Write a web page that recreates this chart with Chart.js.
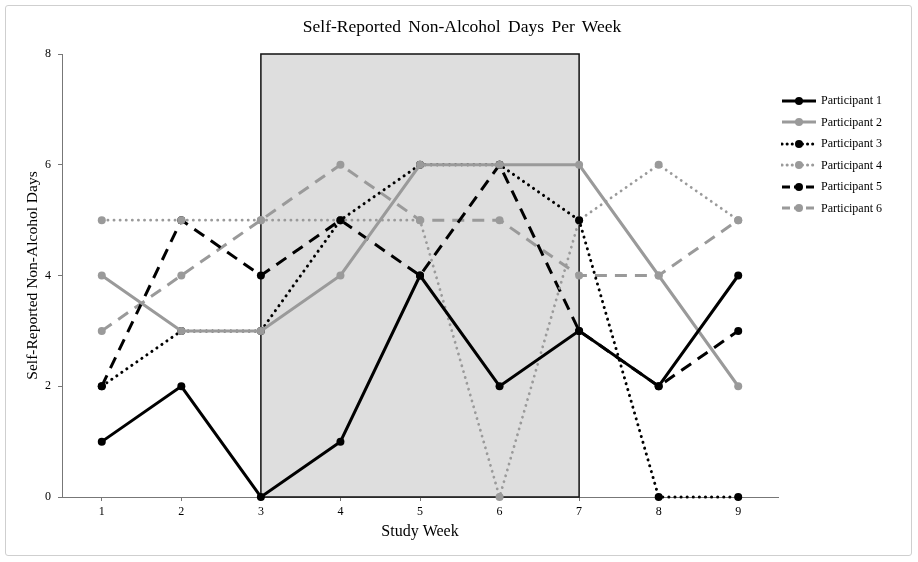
<!DOCTYPE html>
<html>
<head>
<meta charset="utf-8">
<script src="https://cdn.jsdelivr.net/npm/chart.js@4"></script>
<style>
  html, body { margin: 0; padding: 0; background: #fff; }
  #wrap { position: relative; width: 918px; height: 562px; }
  #frame { position: absolute; left: 5px; top: 5px; width: 905px; height: 549px; border: 1px solid #cfcfcf; border-radius: 3px; pointer-events: none; }
  #title { position: absolute; left: 0; width: 924px; top: 16px; text-align: center; font-family: "Liberation Serif", serif; font-size: 17.5px; color: #000; word-spacing: 3px; }
  #legend { position: absolute; left: 781px; top: 90px; font-family: "Liberation Serif", serif; font-size: 12px; color: #000; }
  .item { height: 21.5px; display: flex; align-items: center; }
  .item svg { margin-right: 4px; }
</style>
</head>
<body>
<div id="wrap">
  <canvas id="myChart" width="918" height="562"></canvas>
  <div id="frame"></div>
  <div id="title">Self-Reported Non-Alcohol Days Per Week</div>
  <div id="legend"></div>
</div>
<script>
let weeks = ['1', '2', '3', '4', '5', '6', '7', '8', '9'];
let names = ['Participant 1', 'Participant 2', 'Participant 3', 'Participant 4', 'Participant 5', 'Participant 6'];
let p1 = [1, 2, 0, 1, 4, 2, 3, 2, 4];
let p2 = [4, 3, 3, 4, 6, 6, 6, 4, 2];
let p3 = [2, 3, 3, 5, 6, 6, 5, 0, 0];
let p4 = [5, 5, 5, 5, 5, 0, 5, 6, 5];
let p5 = [2, 5, 4, 5, 4, 6, 3, 2, 3];
let p6 = [3, 4, 5, 6, 5, 5, 4, 4, 5];
let yTicks = [0, 2, 4, 6, 8];
let shadedWeeks = ['3', '7'];

let black = '#000';
let grey = '#9a9a9a';
let colors = [black, grey, black, grey, black, grey];
let dashes = [[], [], [0.1, 6], [0.1, 6], [12, 8], [12, 8]];
let series = [p1, p2, p3, p4, p5, p6];

let serif = '"Liberation Serif", "Times New Roman", serif';

let datasets = series.map((d, i) => ({
    label: names[i],
    data: d,
    borderColor: colors[i],
    backgroundColor: colors[i],
    borderWidth: i == 3 ? 2.8 : 3,
    borderDash: dashes[i],
    borderCapStyle: dashes[i].length && dashes[i][0] < 1 ? 'round' : 'butt',
    pointRadius: 4,
    pointBorderWidth: 0,
    pointHoverRadius: 4,
    tension: 0,
    clip: false
}));

// grey box behind the lines for weeks 3 to 7
let shadePlugin = {
    id: 'shade',
    beforeDatasetsDraw(chart) {
        let x = chart.scales.x, y = chart.scales.y, ctx = chart.ctx;
        let x1 = x.getPixelForValue(weeks.indexOf(shadedWeeks[0]));
        let x2 = x.getPixelForValue(weeks.indexOf(shadedWeeks[1]));
        let y1 = y.getPixelForValue(y.max), y2 = y.getPixelForValue(y.min);
        ctx.save();
        ctx.fillStyle = '#dedede';
        ctx.fillRect(x1, y1, x2 - x1, y2 - y1);
        ctx.strokeStyle = '#111';
        ctx.lineWidth = 1.5;
        ctx.strokeRect(x1, y1, x2 - x1, y2 - y1);
        ctx.restore();
    }
};

let chart = new Chart(document.getElementById('myChart').getContext('2d'), {
    type: 'line',
    data: { labels: weeks, datasets: datasets },
    plugins: [shadePlugin],
    options: {
        responsive: false,
        animation: false,
        events: [],
        layout: { padding: { left: 10, right: 140, top: 54, bottom: 10 } },
        plugins: {
            legend: { display: false },
            tooltip: { enabled: false }
        },
        scales: {
            x: {
                offset: true,
                afterFit(s) { s.height = 55; },
                border: { color: '#777', width: 1 },
                grid: { drawOnChartArea: false, drawTicks: true, tickLength: 4, color: '#777' },
                ticks: { color: '#000', font: { family: serif, size: 12 }, padding: 4 },
                title: { display: true, text: 'Study Week', color: '#000', font: { family: serif, size: 16 }, padding: { top: 2, bottom: 11 } }
            },
            y: {
                min: 0,
                max: 8,
                afterFit(s) { s.width = 52; },
                afterBuildTicks(s) { s.ticks = yTicks.map(v => ({ value: v })); },
                border: { color: '#777', width: 1 },
                grid: { drawOnChartArea: false, drawTicks: true, tickLength: 4, color: '#777' },
                ticks: { color: '#000', font: { family: serif, size: 12 }, padding: 7 },
                title: { display: true, text: 'Self-Reported Non-Alcohol Days', color: '#000', font: { family: serif, size: 15.5 }, padding: { top: 14, bottom: 0 } }
            }
        }
    }
});

// legend in the right margin
let legend = document.getElementById('legend');
datasets.forEach(ds => {
    let dash = ds.borderDash.length ? (ds.borderDash[0] < 1 ? '0.1 5' : '8 4') : 'none';
    let cap = ds.borderDash.length && ds.borderDash[0] < 1 ? 'round' : 'butt';
    let row = document.createElement('div');
    row.className = 'item';
    row.innerHTML =
        '<svg width="36" height="10"><line x1="1" y1="5" x2="35" y2="5" stroke="' + ds.borderColor +
        '" stroke-width="3" stroke-dasharray="' + dash + '" stroke-linecap="' + cap + '"/>' +
        '<circle cx="18" cy="5" r="4" fill="' + ds.borderColor + '"/></svg><span>' + ds.label + '</span>';
    legend.appendChild(row);
});
</script>
</body>
</html>
